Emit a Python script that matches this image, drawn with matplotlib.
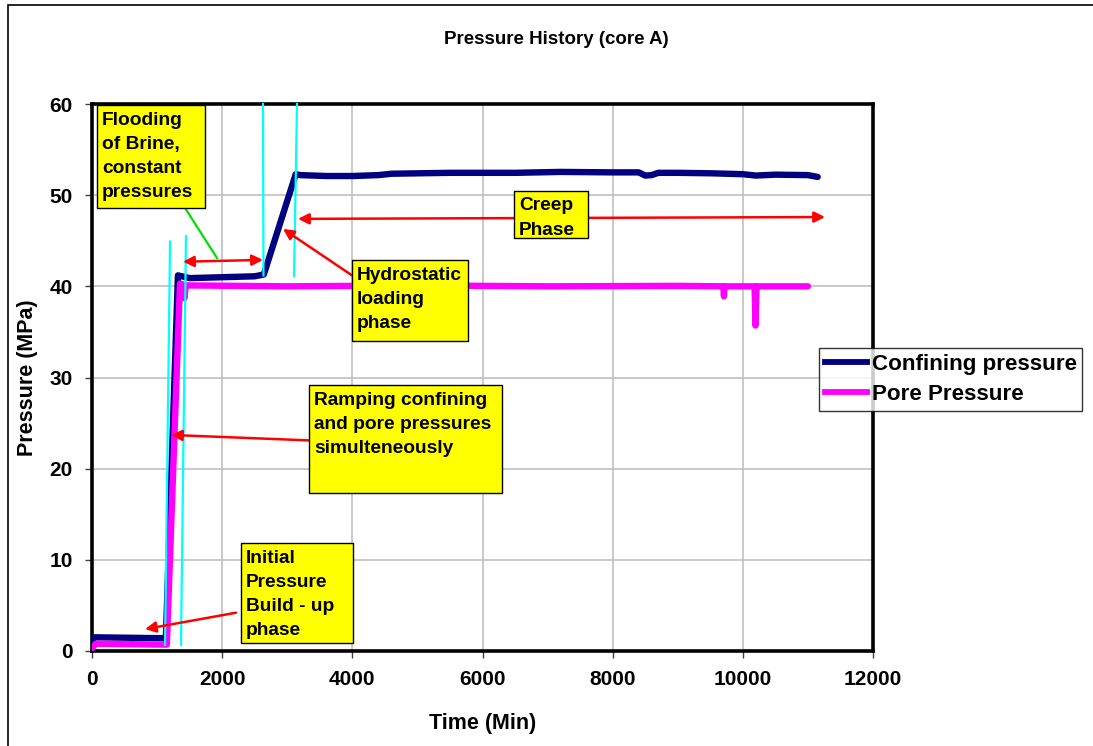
import matplotlib
matplotlib.use("Agg")
import matplotlib.pyplot as plt
from matplotlib.patches import Rectangle
from matplotlib.lines import Line2D

plt.rcParams['font.family'] = ['Liberation Sans', 'DejaVu Sans']
plt.rcParams['font.weight'] = 'bold'

# ---- data -------------------------------------------------------------
conf_time = [0, 50, 1120, 1135, 1320, 1500, 2000, 2500, 2640, 3130, 3200, 3600,
             4000, 4400, 4600, 5500, 6500, 7200, 8000, 8400, 8500, 8600, 8700,
             9000, 9500, 10000, 10200, 10500, 11000, 11150]
conf_pressure = [1.2, 1.5, 1.4, 1.4, 41.2, 40.9, 41.0, 41.1, 41.3, 52.3, 52.2, 52.1,
                 52.1, 52.2, 52.35, 52.45, 52.45, 52.55, 52.5, 52.5, 52.15, 52.2, 52.45,
                 52.45, 52.4, 52.3, 52.15, 52.25, 52.2, 52.0]

pore_time = [0, 60, 1150, 1352, 1400, 1420, 1440, 1500, 3000, 5000, 7000, 9000,
             9700, 9710, 9720, 10180, 10195, 10210, 11000]
pore_pressure = [0.3, 0.8, 0.7, 40.3, 40.2, 38.7, 40.1, 40.1, 40.0, 40.1, 40.0, 40.05,
                 40.0, 38.9, 40.0, 40.0, 35.7, 40.0, 40.0]

x_ticks = [0, 2000, 4000, 6000, 8000, 10000, 12000]
y_ticks = [0, 10, 20, 30, 40, 50, 60]

# phase markers (time, pressure) pairs
phase_marks = [
    ((1122, 0.66), (1199, 44.9)),
    ((1367, 0.66), (1444, 45.5)),
    ((2627, 60.0), (2635, 41.2)),
    ((3150, 60.0), (3104, 41.1)),
]

# ---- figure -----------------------------------------------------------
W, H = 1093, 746
fig = plt.figure(figsize=(W / 100, H / 100), dpi=100)
fig.patch.set_facecolor('white')

# outer chart border
fig.add_artist(Rectangle((8 / W, -0.2), 1.2, 1.2 - 5 / H,
                         transform=fig.transFigure, fill=False,
                         edgecolor='black', lw=1.2, clip_on=False))

ax = fig.add_axes([92 / W, 1 - 651 / H, (873 - 92) / W, (651 - 104) / H])
ax.set_xlim(0, 12000)
ax.set_ylim(0, 60)
ax.set_xticks(x_ticks)
ax.set_yticks(y_ticks)
ax.set_xticklabels([str(v) for v in x_ticks], fontsize=15, fontweight='bold')
ax.set_yticklabels([str(v) for v in y_ticks], fontsize=15, fontweight='bold')
ax.tick_params(direction='out', length=5, width=1, color='#404040', pad=9)
ax.grid(True, color='#c0c0c0', lw=1.2, zorder=0)
ax.set_axisbelow(True)
for s in ax.spines.values():
    s.set_linewidth(2.6)
    s.set_color('black')

ax.plot(conf_time, conf_pressure, color='#000080', lw=4.6,
        solid_capstyle='round', solid_joinstyle='round', zorder=3,
        label='Confining pressure')
ax.plot(pore_time, pore_pressure, color='#ff00ff', lw=4.6,
        solid_capstyle='round', solid_joinstyle='round', zorder=3,
        label='Pore Pressure')

for (x0, y0), (x1, y1) in phase_marks:
    ax.plot([x0, x1], [y0, y1], color='#00ffff', lw=1.6, zorder=4,
            clip_on=False)

# ---- annotations -------------------------------------------------------
arrow_kw = dict(color='#ff0000', lw=1.8, shrinkA=0, shrinkB=0, mutation_scale=16)


def arrow(tail, head, style='-|>'):
    ax.annotate('', xy=head, xytext=tail,
                arrowprops=dict(arrowstyle=style, **arrow_kw), zorder=5,
                annotation_clip=False)


arrow((1398, 42.7), (2627, 42.9), '<|-|>')
arrow((3995, 41.2), (2935, 46.3))
arrow((3165, 47.4), (11263, 47.6), '<|-|>')
arrow((3334, 23.1), (1214, 23.7))
arrow((2213, 4.2), (814, 2.4))
ax.plot([1429, 1921], [48.6, 43.1], color='#00e000', lw=1.6, zorder=5)


def note(x0, x1, y0, y1, text):
    ax.add_patch(Rectangle((x0, y0), x1 - x0, y1 - y0, facecolor='#ffff00',
                           edgecolor='black', lw=1.0, zorder=6, clip_on=False))
    ax.text(x0 + 75, y1 - 0.75, text, ha='left', va='top', fontsize=13.8,
            fontweight='bold', linespacing=1.55, zorder=7)


note(77, 1736, 48.6, 59.9, 'Flooding\nof Brine,\nconstant\npressures')
note(3995, 5777, 34.0, 42.9, 'Hydrostatic\nloading\nphase')
note(3334, 6300, 17.3, 29.2, 'Ramping confining\nand pore pressures\nsimulteneously')
note(2289, 4010, 0.88, 11.85, 'Initial\nPressure\nBuild - up\nphase')
note(6484, 7621, 45.3, 50.5, 'Creep\nPhase')

# ---- labels -----------------------------------------------------------
fig.text(556 / W, 1 - 40 / H, 'Pressure History (core A)', ha='center',
         va='center', fontsize=13.5, fontweight='bold')
fig.text(483 / W, 1 - 724 / H, 'Time (Min)', ha='center', va='center',
         fontsize=15.5, fontweight='bold')
fig.text(28 / W, 1 - 378 / H, 'Pressure (MPa)', ha='center', va='center',
         rotation=90, fontsize=15.5, fontweight='bold')

handles = [Line2D([], [], color='#000080', lw=4.2),
           Line2D([], [], color='#ff00ff', lw=4.2)]
leg = fig.legend(handles, ['Confining pressure', 'Pore Pressure'],
                 loc='upper left', bbox_to_anchor=(819 / W, 1 - 348 / H),
                 bbox_transform=fig.transFigure, frameon=True,
                 fancybox=False, edgecolor='black', borderpad=0.25,
                 labelspacing=0.42, handlelength=1.9, handletextpad=0.2,
                 borderaxespad=0, prop={'weight': 'bold', 'size': 16.1})
leg.get_frame().set_linewidth(1.0)
for t in leg.get_texts():
    t.set_fontweight('bold')

fig.savefig('out.png', dpi=100)
